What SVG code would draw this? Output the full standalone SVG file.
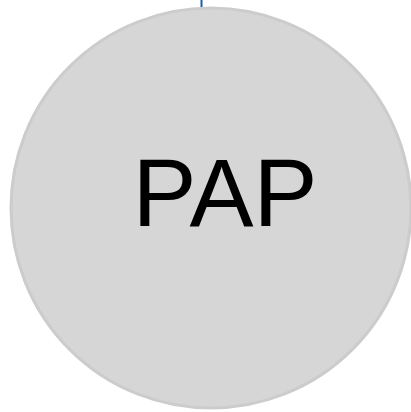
<svg xmlns="http://www.w3.org/2000/svg" width="411" height="412" viewBox="0 0 411 412">
<style>
.node{fill:#d6d6d6;stroke:#cccccc;stroke-width:3}
.lbl{font-family:"Liberation Sans",Arial,sans-serif;font-size:96px;fill:#000}
.edge{stroke:#1a5fa8;stroke-width:2;fill:none}
</style>
<g id="connectors"><line class="edge" x1="201.5" y1="0" x2="201.5" y2="7"/></g>
<g id="PAP">
<circle class="node" cx="211" cy="208" r="200"/>
<text class="lbl" x="225" y="226" text-anchor="middle">PAP</text>
</g>
</svg>
